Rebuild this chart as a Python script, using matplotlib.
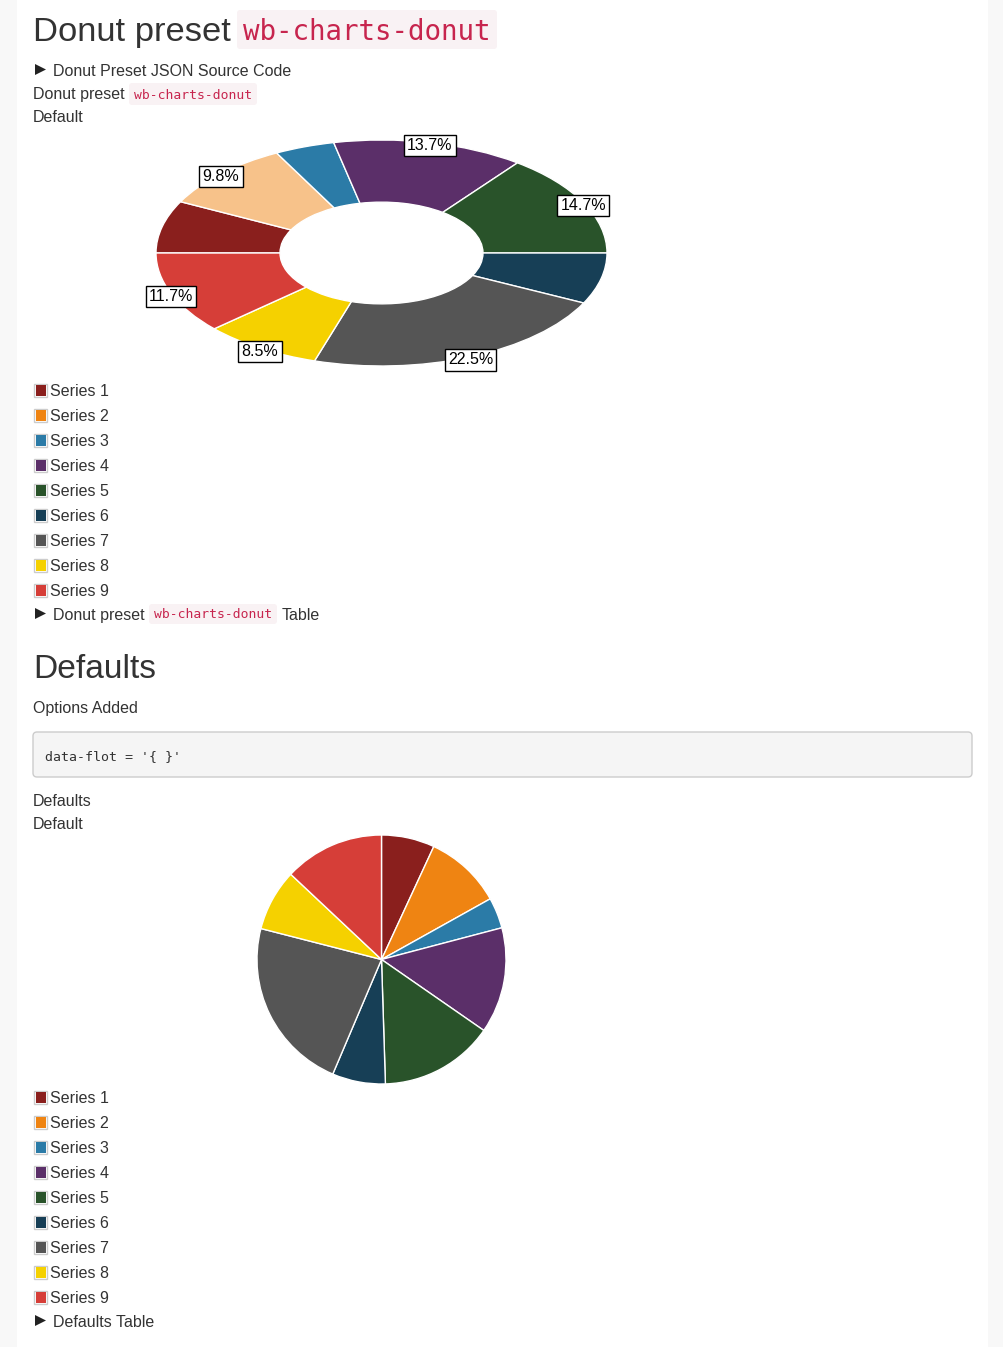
import matplotlib
matplotlib.use("Agg")
import matplotlib.pyplot as plt
from matplotlib.patches import Rectangle, FancyBboxPatch, Polygon
import numpy as np

# ---------------- data ----------------
series = ["Series 1", "Series 2", "Series 3", "Series 4", "Series 5",
          "Series 6", "Series 7", "Series 8", "Series 9"]
donut_values = [7.5, 9.8, 4.3, 13.7, 14.7, 7.3, 22.5, 8.5, 11.7]
pie_values = [6.9, 10.0, 4.0, 13.75, 14.85, 6.9, 22.6, 8.0, 13.0]
colors = ["#8a1f1d", "#ef8412", "#2b7ba7", "#5b2f69", "#29532a",
          "#173f56", "#555555", "#f5d100", "#d63e38"]
donut_colors = ["#8a1f1d", "#f7c28a", "#2b7ba7", "#5b2f69", "#29532a",
                "#173f56", "#555555", "#f5d100", "#d63e38"]
label_threshold = 8.0

W, H = 1004, 1347
SANS = ["Liberation Sans", "DejaVu Sans"]
MONO = ["DejaVu Sans Mono"]
TXT = "#333333"
CODE_RED = "#c7254e"
CODE_BG = "#f9f2f4"

fig = plt.figure(figsize=(W / 100, H / 100), dpi=100)
fig.patch.set_facecolor("#f8f8f8")

bg = fig.add_axes([0, 0, 1, 1])
bg.set_xlim(0, W)
bg.set_ylim(H, 0)
bg.axis("off")
bg.add_patch(Rectangle((17, 0), 971, H, facecolor="white", edgecolor="none", zorder=0))


def px(v):
    return v * 0.72


def text(x, y, s, size=16, color=TXT, family=SANS, **kw):
    bg.text(x, y, s, fontsize=px(size), color=color, family=family,
            va="baseline", ha="left", **kw)


def arrow(x, base):
    # solid right-pointing triangle used for <details> summaries
    bg.add_patch(Polygon([(x + 2, base - 12), (x + 2, base - 1), (x + 13, base - 6.5)],
                         closed=True, facecolor="#222222", edgecolor="none", zorder=2))


def code(x0, x1, y0, y1, s, size, base):
    bg.add_patch(FancyBboxPatch((x0 + 3, y0 + 3), x1 - x0 - 6, y1 - y0 - 6,
                                boxstyle="round,pad=3", facecolor=CODE_BG,
                                edgecolor="none", zorder=1))
    bg.text((x0 + x1) / 2, base, s, fontsize=px(size), color=CODE_RED,
            family=MONO, va="baseline", ha="center", zorder=2)


# ---------------- header texts ----------------
text(33, 41, "Donut preset", size=34.5)
code(237, 497, 10, 49, "wb-charts-donut", 27.5, 40)
arrow(33, 76)
text(53, 76, "Donut Preset JSON Source Code")
text(33, 99.5, "Donut preset")
code(129, 257, 83, 105, "wb-charts-donut", 13, 99)
text(33, 122, "Default")


def legend(top_base):
    for i, (name, c) in enumerate(zip(series, colors)):
        b = top_base + 25 * i
        bg.add_patch(Rectangle((34.5, b - 12), 13, 13, facecolor="white",
                               edgecolor="#cccccc", linewidth=1, zorder=1))
        bg.add_patch(Rectangle((35.8, b - 10.7), 10.4, 10.4, facecolor=c,
                               edgecolor="none", zorder=2))
        text(50, b, name)


legend(396)
arrow(33, 620)
text(53, 620, "Donut preset")
code(149, 277, 604, 624, "wb-charts-donut", 13, 618.5)
text(282, 620, "Table")

text(33, 678, "Defaults", size=33.5)
text(33, 713, "Options Added")
bg.add_patch(FancyBboxPatch((37, 736), 931, 37, boxstyle="round,pad=4",
                            facecolor="#f5f5f5", edgecolor="#cccccc",
                            linewidth=1, zorder=1))
bg.text(45, 760, "data-flot = '{ }'", fontsize=px(13.3), color=TXT,
        family=MONO, va="baseline", ha="left", zorder=2)
text(33, 806, "Defaults")
text(33, 829, "Default")
legend(1103)
arrow(33, 1327)
text(53, 1327, "Defaults Table")


def add_px_axes(x0, y0, x1, y1):
    return fig.add_axes([x0 / W, 1 - y1 / H, (x1 - x0) / W, (y1 - y0) / H])


# ---------------- donut (tilted) ----------------
ax1 = add_px_axes(156, 140, 607, 366)
ax1.pie(donut_values, colors=donut_colors, startangle=180, counterclock=False,
        radius=1.0, wedgeprops=dict(width=0.55, edgecolor="white", linewidth=1))
ax1.set_aspect("auto")
ax1.set_xlim(-1, 1)
ax1.set_ylim(-1, 1)
ax1.axis("off")

total = float(np.sum(donut_values))
cum = 0.0
for v in donut_values:
    pct = v / total * 100
    mid = np.deg2rad(180 - 360 * (cum + v / 2) / total)
    cum += v
    if pct > label_threshold:
        ax1.annotate(f"{pct:.1f}%", xy=(np.cos(mid), np.sin(mid)),
                     xytext=(0, -2.2), textcoords="offset points",
                     ha="center", va="center", fontsize=px(16), family=SANS,
                     color="black",
                     bbox=dict(boxstyle="square,pad=0.2", facecolor="white",
                               edgecolor="black", linewidth=1),
                     zorder=5, annotation_clip=False)

# ---------------- pie ----------------
ax2 = add_px_axes(257, 835, 506, 1084)
ax2.pie(pie_values, colors=colors, startangle=90, counterclock=False, radius=1.0,
        wedgeprops=dict(edgecolor="white", linewidth=1))
ax2.set_aspect("auto")
ax2.set_xlim(-1, 1)
ax2.set_ylim(-1, 1)
ax2.axis("off")

fig.savefig("out.png", dpi=100, facecolor=fig.get_facecolor())
